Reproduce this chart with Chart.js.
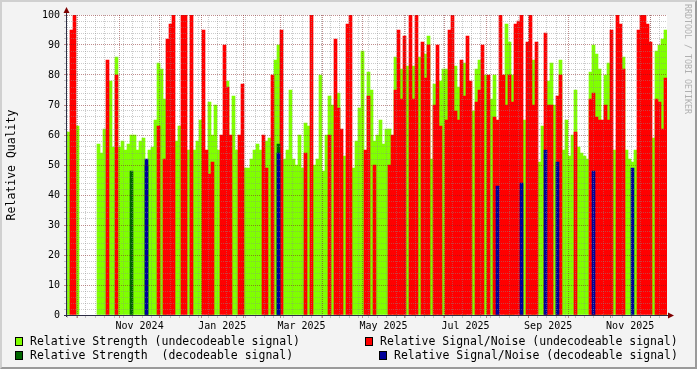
<!DOCTYPE html>
<html>
<head>
<meta charset="utf-8">
<title>Relative Quality</title>
<script src="https://cdn.jsdelivr.net/npm/chart.js@4.4.1/dist/chart.umd.min.js"></script>
<style>
  html, body { margin: 0; padding: 0; background: #f3f3f3; }
  #graph { position: relative; width: 697px; height: 369px; overflow: hidden; }
  #graph canvas { position: absolute; left: 0; top: 0; }
  #frame { position: absolute; left: 0; top: 0; width: 697px; height: 369px; box-sizing: border-box;
           border-style: solid; border-width: 2px; border-color: #d0d0d0 #9a9a9a #9a9a9a #d0d0d0; pointer-events: none; }
  .legend { position: absolute; font-family: "DejaVu Sans Mono", monospace; font-size: 11.5px; line-height: 14px; white-space: pre; color: #000; }
  .swatch { position: absolute; width: 6px; height: 7px; border: 1px solid #000; }
  #credit { position: absolute; left: 683px; top: 4px; writing-mode: vertical-rl; font-family: "DejaVu Sans Mono", monospace;
            font-size: 8.3px; color: #b0b0b0; white-space: pre; }
</style>
</head>
<body>
<div id="graph">
  <canvas id="quality" width="697" height="369"></canvas>
  <div id="frame"></div>
  <div id="credit">RRDTOOL / TOBI OETIKER</div>
  <div class="swatch" style="left:15px;top:337px;background:#80ff00"></div>
  <div class="legend" style="left:30px;top:334px">Relative Strength (undecodeable signal)</div>
  <div class="swatch" style="left:365px;top:337px;background:#ff0000"></div>
  <div class="legend" style="left:380px;top:334px">Relative Signal/Noise (undecodeable signal)</div>
  <div class="swatch" style="left:15px;top:351px;background:#006600"></div>
  <div class="legend" style="left:30px;top:348px">Relative Strength  (decodeable signal)</div>
  <div class="swatch" style="left:379px;top:351px;background:#000099"></div>
  <div class="legend" style="left:394px;top:348px">Relative Signal/Noise (decodeable signal)</div>
</div>
<script>
// one value per time slot (about 2.2 days each), null = nothing drawn
const strength = [
  61, null, null, 63, null, null, null, null, null, null, 57, 54, 62, null, 78, 56, 86, 56, 58, 55,
  57, 60, 60, 55, 58, 59, 50, 55, 56, 65, 84, 82, 72, null, null, null, 58, 63, null, null,
  55, null, 55, 58, 65, null, null, 71, 60, 70, 55, null, null, 78, null, 73, 55, null, null, 49,
  49, 52, 55, 57, 55, null, 58, 59, null, 85, 90, null, 52, 55, 75, 52, 50, 60, 49, 64,
  63, null, 50, 52, 80, 48, 60, 73, 70, null, 74, null, 53, null, null, 49, 58, 69, 88, null,
  81, 75, 58, 60, 65, 57, 62, 62, null, 86, null, 82, null, 83, null, 83, null, 86, null, 87,
  93, 52, 77, null, 78, 82, 82, null, null, 83, 76, null, 84, null, null, 68, 82, 85, null, 80,
  null, 72, 80, null, null, null, 97, 91, 80, null, null, null, 65, null, null, 85, null, 51, 63, null,
  78, 84, 70, null, 85, 55, 65, 53, 60, 75, 56, 54, 53, 52, 81, 90, 87, 82, null, 80,
  84, null, 55, null, null, 86, 55, 52, 51, 55, null, null, null, null, null, 59, 88, 90, 92, 95
];

const snr = [
  null, 95, 100, null, null, null, null, null, null, null, null, null, null, 85, null, null, 80, null, null, null,
  null, null, null, null, null, null, null, null, null, null, 63, null, 52, 92, 97, 100, null, null, 100, 100,
  null, 100, null, null, null, 95, 55, 47, 51, null, null, 60, 90, 76, 60, null, null, 60, 77, null,
  null, null, null, null, null, 60, 49, null, 80, null, null, 95, null, null, null, null, null, null, null, 54,
  null, 100, null, null, null, null, null, 60, null, 92, 69, 62, null, 97, 100, null, null, null, null, 55,
  73, null, 50, null, null, null, null, 50, 60, 75, 95, 72, 93, null, 100, 72, 100, null, 91, 79,
  90, null, 70, 90, 63, null, 65, 95, 100, 68, 65, 85, 73, 93, 78, null, 71, 75, 90, null,
  80, null, 66, 65, 100, 80, 70, 80, 71, 97, 98, 100, null, 91, 100, 70, 91, null, null, 94,
  70, 70, null, 73, 80, null, null, null, null, 61, null, null, null, null, 72, 74, 66, 65, 65, 70,
  65, 95, null, 100, 97, 82, null, null, null, null, 95, 100, 100, 97, 91, null, 72, 71, 62, 79
];

// the few decodeable samples: slot number and value
const strengthDecSlots = [21, 26, 70];
const strengthDecValues = [48, 50, 57];
const snrDecSlots = [26, 70, 143, 151, 159, 163, 175, 188];
const snrDecValues = [52, 54, 43, 44, 55, 51, 48, 49];

const tickLabels = ['Nov 2024', 'Jan 2025', 'Mar 2025', 'May 2025', 'Jul 2025', 'Sep 2025', 'Nov 2025'];
const tickMonths = [[2024, 10], [2025, 0], [2025, 2], [2025, 4], [2025, 6], [2025, 8], [2025, 10]];

// x axis is in days counted from 1 Oct 2024
const day0 = Date.UTC(2024, 9, 1);
const xMin = -8, xMax = 438.4;
const slotDays = (xMax - xMin) / strength.length;

function dayOf(y, m, d) {
  return (Date.UTC(y, m, d) - day0) / 864e5;
}

function slotX(i) {
  return xMin + (i + 0.5) * slotDays;
}

function toPoints(values) {
  return values.map((v, i) => v === null ? null : { x: slotX(i), y: v }).filter(p => p);
}

function sparsePoints(slots, values) {
  return slots.map((s, k) => ({ x: slotX(s), y: values[k] }));
}

const minorGrid = 'rgba(140, 140, 140, 0.45)';
const majorGrid = 'rgba(130, 30, 30, 0.5)';
const monoFont = 'DejaVu Sans Mono';

const rrdFrame = {
  id: 'rrdFrame',
  beforeDraw(chart) {
    const c = chart.ctx, a = chart.chartArea;
    c.save();
    c.fillStyle = '#f3f3f3';
    c.fillRect(0, 0, chart.width, chart.height);
    c.fillStyle = '#ffffff';
    c.fillRect(a.left, a.top, a.right - a.left, a.bottom - a.top);
    c.restore();
  },
  afterDraw(chart) {
    // axis lines and the little arrow heads
    const c = chart.ctx, a = chart.chartArea;
    c.save();
    c.strokeStyle = '#2c2c44';
    c.lineWidth = 1;
    c.beginPath();
    c.moveTo(a.left - 0.5, a.bottom + 2);
    c.lineTo(a.left - 0.5, a.top - 5);
    c.moveTo(a.left - 3, a.bottom + 0.5);
    c.lineTo(a.right + 3, a.bottom + 0.5);
    c.stroke();
    c.fillStyle = '#7f0000';
    c.beginPath();
    c.moveTo(a.left - 0.5, a.top - 8);
    c.lineTo(a.left - 3.5, a.top - 2);
    c.lineTo(a.left + 2.5, a.top - 2);
    c.fill();
    c.beginPath();
    c.moveTo(a.right + 7, a.bottom + 0.5);
    c.lineTo(a.right + 1, a.bottom - 2.5);
    c.lineTo(a.right + 1, a.bottom + 3.5);
    c.fill();
    c.restore();
  }
};

const ctx = document.getElementById('quality').getContext('2d');

new Chart(ctx, {
  type: 'bar',
  data: {
    datasets: [
      { label: 'Relative Signal/Noise (decodeable signal)', data: sparsePoints(snrDecSlots, snrDecValues), backgroundColor: '#000099', order: 1 },
      { label: 'Relative Strength  (decodeable signal)', data: sparsePoints(strengthDecSlots, strengthDecValues), backgroundColor: '#006600', order: 2 },
      { label: 'Relative Signal/Noise (undecodeable signal)', data: toPoints(snr), backgroundColor: '#ff0000', order: 3 },
      { label: 'Relative Strength (undecodeable signal)', data: toPoints(strength), backgroundColor: '#80ff00', order: 4 }
    ]
  },
  options: {
    responsive: false,
    animation: false,
    devicePixelRatio: 1,
    layout: { padding: { left: 0, top: 15, right: 30, bottom: 34 } },
    datasets: {
      bar: { barPercentage: 1, categoryPercentage: 1, grouped: false, borderWidth: 0 }
    },
    plugins: {
      legend: { display: false },
      tooltip: { enabled: false }
    },
    scales: {
      x: {
        type: 'linear',
        min: xMin,
        max: xMax,
        offset: false,
        grid: {
          offset: false,
          z: 1,
          tickLength: 3,
          color: c => c.tick && c.tick.kind === 'major' ? majorGrid : (c.tick && c.tick.kind === 'minor' ? minorGrid : 'rgba(0,0,0,0)')
        },
        border: { display: false, dash: [1, 1] },
        afterBuildTicks: axis => {
          const ticks = [];
          for (let d = dayOf(2024, 8, 23); d <= xMax; d += 7) ticks.push({ value: d, kind: 'minor' });
          tickMonths.forEach((ym, k) => {
            const mid = (dayOf(ym[0], ym[1], 1) + dayOf(ym[0], ym[1] + 1, 1)) / 2;
            ticks.push({ value: mid, kind: 'label', text: tickLabels[k] });
          });
          for (let m = 0; m < 15; m++) ticks.push({ value: dayOf(2024, 9 + m, 1), kind: 'major' });
          axis.ticks = ticks;
        },
        afterFit: axis => { axis.height = 20; },
        ticks: {
          autoSkip: false,
          maxRotation: 0,
          padding: 2,
          color: '#000',
          font: { family: monoFont, size: 10 },
          callback: (value, index, ticks) => ticks[index].text || ''
        }
      },
      y: {
        min: 0,
        max: 100,
        grid: {
          z: 1,
          tickLength: 3,
          color: c => c.tick && c.tick.value % 10 === 0 ? majorGrid : minorGrid
        },
        border: { display: false, dash: [1, 1] },
        afterFit: axis => { axis.width = 67; },
        ticks: {
          stepSize: 2,
          autoSkip: false,
          padding: 4,
          color: '#000',
          font: { family: monoFont, size: 10 },
          callback: v => v % 10 === 0 ? v : ''
        },
        title: {
          display: true,
          text: 'Relative Quality',
          color: '#000',
          padding: { top: 5 },
          font: { family: monoFont, size: 11.5 }
        }
      }
    }
  },
  plugins: [rrdFrame]
});
</script>
</body>
</html>
